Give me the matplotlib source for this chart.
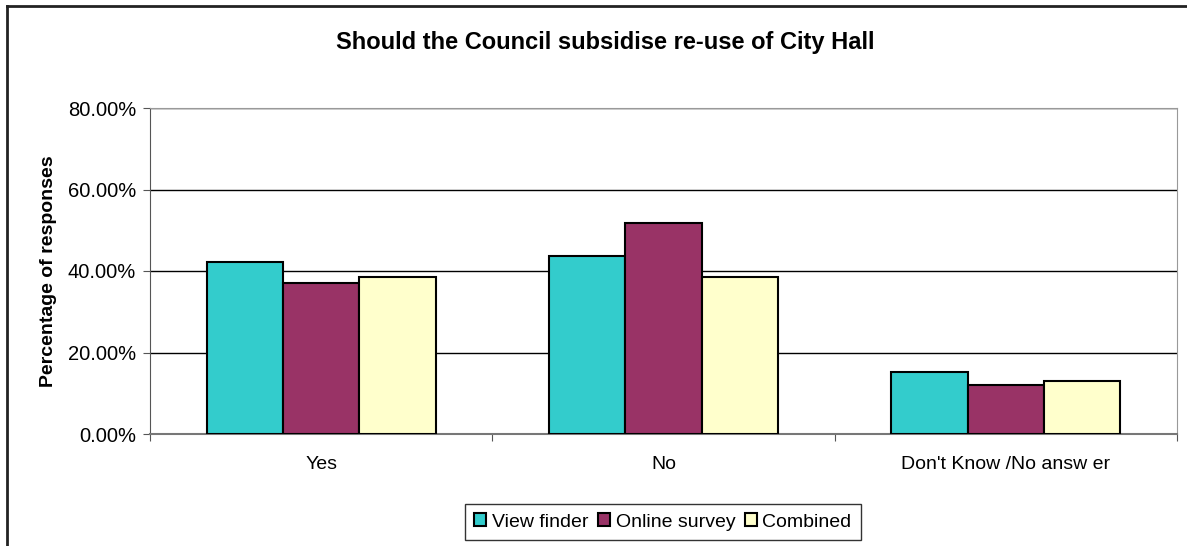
# Should the Council subsidise re-use of City Hall - bar chart

import matplotlib.pyplot as plt
import numpy as np
from matplotlib.ticker import FuncFormatter, MultipleLocator

plt.rcParams['font.family'] = ['Liberation Sans', 'DejaVu Sans']

categories = ["Yes", "No", "Don't Know /No answ er"]
series = ["View finder", "Online survey", "Combined"]
view_finder = [42.3, 43.6, 15.2]
online_survey = [37.0, 51.8, 12.1]
combined = [38.6, 38.6, 12.9]
colors = ['#33CCCC', '#993366', '#FFFFCC']

fig = plt.figure(figsize=(11.87, 5.46), dpi=100)
ax = fig.add_axes([150 / 1187, 1 - 434 / 546, 1027 / 1187, 326 / 546])

x = np.arange(len(categories))
width = 0.223
for i, (vals, name, col) in enumerate(zip([view_finder, online_survey, combined], series, colors)):
    ax.bar(x + (i - 1) * width, vals, width, color=col, edgecolor='black',
           linewidth=1.5, label=name, zorder=3)

ax.set_xlim(-0.5, 2.5)
ax.set_ylim(0, 80)
ax.yaxis.set_major_locator(MultipleLocator(20))
ax.yaxis.set_major_formatter(FuncFormatter(lambda v, p: '%.2f%%' % v))
ax.grid(axis='y', color='black', linewidth=1, zorder=0)

# tick marks on category borders, labels in the middle
ax.set_xticks([-0.5, 0.5, 1.5, 2.5])
ax.set_xticklabels([])
ax.set_xticks(x, minor=True)
ax.set_xticklabels(categories, minor=True, fontsize=14)
ax.tick_params(axis='x', which='minor', length=0, pad=16)
ax.tick_params(axis='x', which='major', length=5, color='#555555', direction='out')
ax.tick_params(axis='y', length=5, color='#555555', labelsize=14.5, pad=5)

for s in ['top', 'right']:
    ax.spines[s].set_color('#999999')
ax.spines['left'].set_color('#555555')
ax.spines['bottom'].set_color('#777777')
ax.spines['bottom'].set_linewidth(1.5)

ax.set_ylabel('Percentage of responses', fontsize=14, fontweight='bold', labelpad=8)

fig.text(605 / 1187, 1 - 42 / 546, 'Should the Council subsidise re-use of City Hall',
         ha='center', va='center', fontsize=17, fontweight='bold')

leg = fig.legend(loc='center', bbox_to_anchor=(663 / 1187, 1 - 522 / 546), ncol=3,
                 fontsize=14, frameon=True, fancybox=False, edgecolor='black',
                 handlelength=0.6, handleheight=0.6, handletextpad=0.3,
                 columnspacing=0.5, borderpad=0.5)
leg.get_frame().set_linewidth(1)

# outer chart border (clipped at right and bottom)
fig.add_artist(plt.Line2D([7 / 1187, 7 / 1187], [0, 1 - 6 / 546], color='#222222', linewidth=2))
fig.add_artist(plt.Line2D([7 / 1187, 1], [1 - 6 / 546, 1 - 6 / 546], color='#222222', linewidth=2))

fig.savefig('out.png', dpi=100)
